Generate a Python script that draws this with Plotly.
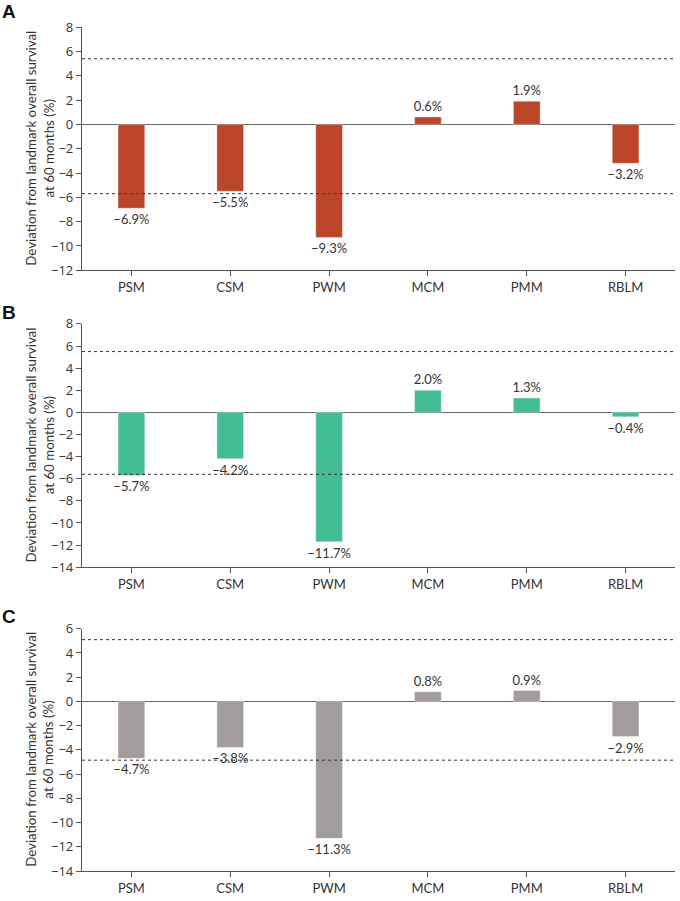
import plotly.graph_objects as go

categories = ["PSM", "CSM", "PWM", "MCM", "PMM", "RBLM"]
values_a = [-6.9, -5.5, -9.3, 0.6, 1.9, -3.2]
values_b = [-5.7, -4.2, -11.7, 2.0, 1.3, -0.4]
values_c = [-4.7, -3.8, -11.3, 0.8, 0.9, -2.9]
panel_letters = ["A", "B", "C"]
upper_limits = [5.4, 5.5, 5.1]
lower_limits = [-5.7, -5.6, -4.85]
y_ranges = [(-12, 8), (-14, 8), (-14, 6)]
colors = ["#BC4428", "#44BC94", "#A39C9D"]
y_title = "Deviation from landmark overall survival<br>at 60 months (%)"

series = [values_a, values_b, values_c]

W, H = 680, 901
ml, mr = 82, 5
pix = [(27, 272), (326, 571), (633, 877)]   # plot-area top/bottom in pixels
letter_centers = [11.5, 315, 621]
mt = pix[0][0]
mb = H - pix[-1][1]
ph = H - mt - mb
pw = W - ml - mr
domains = [[(H - mb - b) / ph, (H - mb - t) / ph] for t, b in pix]
domains[0][1] = 0.9999

font = "Lato, Open Sans, DejaVu Sans, sans-serif"
tick_font = "Open Sans, DejaVu Sans, sans-serif"
fig = go.Figure()
layout = dict(
    width=W, height=H,
    margin=dict(l=ml, r=mr, t=mt, b=mb),
    paper_bgcolor="white", plot_bgcolor="white",
    showlegend=False,
    font=dict(family=font, size=12, color="#333333"),
)

def fmt(v):
    s = f"{abs(v):.1f}%"
    return ("\u2212" + s) if v < 0 else s

shapes = []
annotations = []
for i, vals in enumerate(series):
    n = i + 1
    xa = "x" if n == 1 else f"x{n}"
    ya = "y" if n == 1 else f"y{n}"
    fig.add_trace(go.Bar(
        x=categories, y=vals, xaxis=xa, yaxis=ya,
        marker=dict(color=colors[i], line=dict(color="rgba(255,255,255,0.35)", width=1)),
        text=[fmt(v) for v in vals], textposition="outside",
        textfont=dict(size=13, color="#333333"),
        constraintext="none",
        cliponaxis=False, width=0.27,
    ))
    lo, hi = y_ranges[i]
    xkey = "xaxis" if n == 1 else f"xaxis{n}"
    ykey = "yaxis" if n == 1 else f"yaxis{n}"
    layout[xkey] = dict(
        domain=[0, 1], anchor=ya, showline=True, linecolor="#555555", linewidth=1.2,
        ticks="outside", ticklen=5, tickcolor="#555555", showgrid=False,
        tickfont=dict(size=13, color="#333333"), range=[-0.5, 5.5],
        ticklabeloverflow="allow",
    )
    layout[ykey] = dict(
        domain=domains[i], anchor=xa, range=[lo, hi + 0.003],
        tickmode="array", tickvals=list(range(lo, hi + 1, 2)),
        ticktext=[("\u2212" + str(abs(t))) if t < 0 else str(t) for t in range(lo, hi + 1, 2)],
        showline=True, linecolor="#555555", linewidth=1.2,
        ticks="outside", ticklen=5, tickcolor="#555555", showgrid=False,
        zeroline=True, zerolinecolor="#666666", zerolinewidth=1.3,
        tickfont=dict(size=13, color="#333333", family=tick_font),
        ticklabeloverflow="allow",
    )
    for yv in (upper_limits[i], lower_limits[i]):
        shapes.append(dict(type="line", xref=f"{xa} domain", yref=ya,
                           x0=0, x1=1, y0=yv, y1=yv,
                           line=dict(color="#333333", width=1, dash="3px,3px")))
    # y-axis title as rotated annotation
    annotations.append(dict(text=y_title, xref="paper", yref="paper",
                            x=(40 - ml) / pw, y=sum(domains[i]) / 2,
                            xanchor="center", yanchor="middle", textangle=-90,
                            showarrow=False, align="center",
                            font=dict(size=13.3, color="#333333", family=font)))
    annotations.append(dict(text=f"<b>{panel_letters[i]}</b>", xref="paper", yref="paper",
                            x=(9 - ml) / pw, y=(H - mb - letter_centers[i]) / ph,
                            xanchor="center", yanchor="middle", showarrow=False,
                            font=dict(size=19, color="#111111", family="Liberation Sans, Arial, sans-serif")))

layout["shapes"] = shapes
layout["annotations"] = annotations
fig.update_layout(**layout)
fig.write_html("out.html", config={"displayModeBar": False},
               post_script="document.body.style.margin='0px';")
